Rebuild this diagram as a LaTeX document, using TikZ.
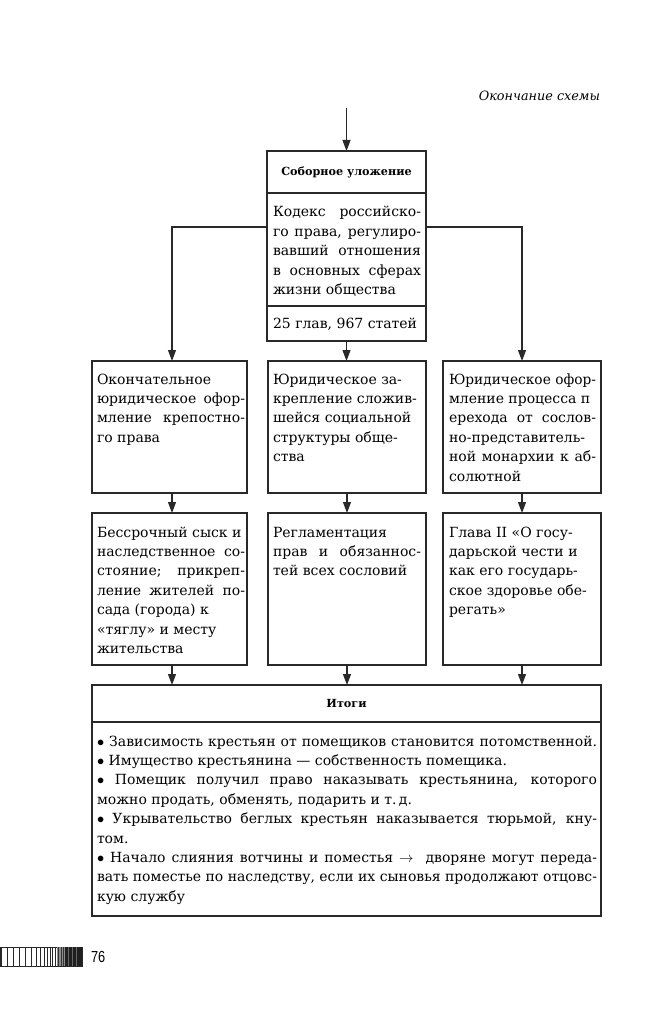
\documentclass[tikz,border=0pt]{standalone}
\usepackage{fontspec}
\setmainfont{DejaVu Serif}
\newfontfamily\pnfont{Liberation Sans}
\usetikzlibrary{arrows.meta}
\definecolor{ln}{gray}{0.16}
\tolerance=10000
\hbadness=10000
\hfuzz=20pt
\newsavebox\lnbox
\newlength\lnw
\newcommand\fitline[2]{%
  \spaceskip=\fontdimen2\font plus 3\fontdimen2\font minus 0.2\fontdimen2\font\relax
  \xspaceskip=\spaceskip
  \sbox\lnbox{#2}\setlength\lnw{\wd\lnbox}%
  \ifdim\lnw>\linewidth
    \pgfmathsetmacro\lnsc{\linewidth/\lnw}%
    \noindent\scalebox{\lnsc}[1]{\usebox\lnbox}%
  \else
    \ifx s#1\noindent\hbox to\linewidth{#2}\else\noindent\hbox to\linewidth{#2\hfil}\fi
  \fi\par}
\newcommand\jl[1]{\fitline{s}{#1}}
\newcommand\nl[1]{\fitline{l}{#1}}
\begin{document}
\begin{tikzpicture}[x=1pt,y=-1pt,
  every node/.style={inner sep=0pt, outer sep=0pt},
  frame/.style={draw=ln, line width=1.1pt},
  hd/.style={font=\fontsize{11.2}{13}\selectfont\bfseries},
  txt/.style={anchor=base west, text width=#1, font=\fontsize{14}{19.4}\selectfont},
  wtxt/.style={anchor=base west, text width=#1, font=\fontsize{14}{19.4}\selectfont},
  arr/.style={draw=ln, line width=1.1pt, -{Triangle[length=11pt,width=8pt]}},
]
\useasboundingbox (0,0) rectangle (660,1024);

% header text
\node[anchor=base east, font=\fontsize{12.8}{15}\selectfont\itshape] (title) at (600,101) {Окончание схемы};

% top box
\node[frame, hd, minimum width=159pt, minimum height=42pt] (head) at (346.5,172) {Соборное уложение};
\node[frame, minimum width=159pt, minimum height=113pt] (body) at (346.5,249.5) {};
\node[frame, minimum width=159pt, minimum height=35pt] (foot) at (346.5,323.5) {};
\node[txt=148pt] (bodyT) at ([xshift=6pt,yshift=-24pt]body.north west)
  {\jl{Кодекс российско-}\jl{го права, регулиро-}\jl{вавший отношения}\jl{в основных сферах}\nl{жизни общества}};
\node[txt=148pt] (footT) at ([xshift=6pt,yshift=-22pt]foot.north west) {\nl{25 глав, 967 статей}};

% row 1
\node[frame, minimum width=155pt, minimum height=132pt] (L1) at (169.5,427) {};
\node[frame, minimum width=158pt, minimum height=132pt] (M1) at (347,427) {};
\node[frame, minimum width=158pt, minimum height=132pt] (R1) at (522,427) {};
\node[txt=148pt] (L1T) at ([xshift=5pt,yshift=-23pt]L1.north west)
  {\nl{Окончательное}\jl{юридическое офор-}\jl{мление крепостно-}\nl{го права}};
\node[txt=148pt] (M1T) at ([xshift=5pt,yshift=-23pt]M1.north west)
  {\nl{Юридическое за-}\nl{крепление сложив-}\nl{шейся социальной}\nl{структуры обще-}\nl{ства}};
\node[txt=147pt] (R1T) at ([xshift=6pt,yshift=-23pt]R1.north west)
  {\jl{Юридическое офор-}\nl{мление процесса п}\jl{ерехода от сослов-}\nl{но-представитель-}\jl{ной монархии к аб-}\nl{солютной}};

% row 2
\node[frame, minimum width=155pt, minimum height=152pt] (L2) at (169.5,589) {};
\node[frame, minimum width=158pt, minimum height=152pt] (M2) at (347,589) {};
\node[frame, minimum width=158pt, minimum height=152pt] (R2) at (522,589) {};
\node[txt=148pt] (L2T) at ([xshift=5pt,yshift=-24pt]L2.north west)
  {\nl{Бессрочный сыск и}\jl{наследственное со-}\jl{стояние; прикреп-}\jl{ление жителей по-}\nl{сада (города) к}\nl{«тяглу» и месту}\nl{жительства}};
\node[txt=148pt] (M2T) at ([xshift=5pt,yshift=-24pt]M2.north west)
  {\nl{Регламентация}\jl{прав и обязаннос-}\nl{тей всех сословий}};
\node[txt=147pt] (R2T) at ([xshift=6pt,yshift=-24pt]R2.north west)
  {\nl{Глава II «О госу-}\nl{дарьской чести и}\nl{как его государь-}\nl{ское здоровье обе-}\nl{регать»}};

% results
\node[frame, hd, minimum width=509pt, minimum height=37pt] (ih) at (346.5,703.5) {Итоги};
\node[frame, minimum width=509pt, minimum height=194pt] (ib) at (346.5,819) {};
\node[wtxt=500pt] (ibT) at ([xshift=5pt,yshift=-24pt]ib.north west)
  {\jl{$\bullet$ Зависимость крестьян от помещиков становится потомственной.}%
   \nl{$\bullet$ Имущество крестьянина — собственность помещика.}%
   \jl{$\bullet$ Помещик получил право наказывать крестьянина, которого}%
   \nl{можно продать, обменять, подарить и т.\,д.}%
   \jl{$\bullet$ Укрывательство беглых крестьян наказывается тюрьмой, кну-}%
   \nl{том.}%
   \jl{$\bullet$ Начало слияния вотчины и поместья $\rightarrow$\ \ дворяне могут переда-}%
   \jl{вать поместье по наследству, если их сыновья продолжают отцовс-}%
   \nl{кую службу}};

% connectors
\coordinate (in) at (346.5,108);
\draw[arr] (in) -- (head.north);
\draw[arr] ([yshift=22.5pt]body.west) -| ([xshift=2.5pt]L1.north);
\draw[arr] ([yshift=22.5pt]body.east) -| (R1.north);
\draw[arr] (foot.south) -- (foot.south |- M1.north);
\draw[arr] ([xshift=2.5pt]L1.south) -- ([xshift=2.5pt]L2.north);
\draw[arr] (M1.south) -- (M2.north);
\draw[arr] (R1.south) -- (R2.north);
\draw[arr] ([xshift=2.5pt]L2.south) -- ([xshift=2.5pt]L2.south |- ih.north);
\draw[arr] (M2.south) -- (M2.south |- ih.north);
\draw[arr] (R2.south) -- (R2.south |- ih.north);

% page footer: bar and number
\draw[ln, line width=0.6pt] (0,947) rectangle (82,966);
\foreach \xx in {1,7.3,13.3,19.3,25.3,31,36,40.3,44.3,47.3,50,52.7,55}
  \draw[ln, line width=0.8pt] (\xx,947) -- (\xx,966);
\fill[black!45] (57,947) rectangle (65,966);
\fill[black!88] (65,947) rectangle (82,966);
\foreach \xx in {58.5,61,63.5}
  \draw[black!80, line width=0.7pt] (\xx,947) -- (\xx,966);
\foreach \xx in {68,72,76}
  \draw[black!60, line width=0.5pt] (\xx,947) -- (\xx,966);
\node[anchor=base west, font=\pnfont\fontsize{16}{18}\selectfont] (pg) at (91,962) {\scalebox{0.8}[1]{76}};
\end{tikzpicture}
\end{document}
